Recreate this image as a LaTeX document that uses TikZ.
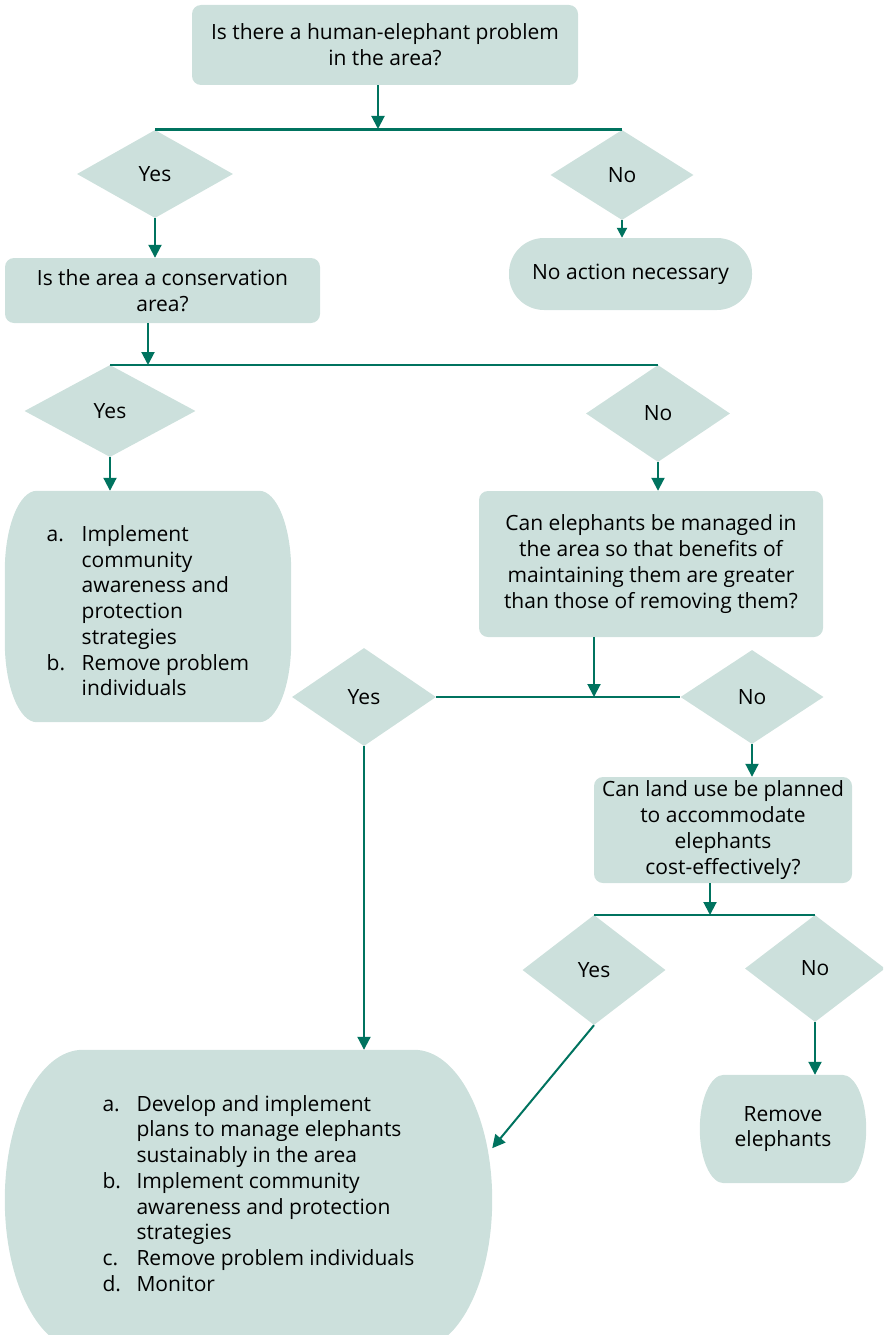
\documentclass[tikz,border=0pt]{standalone}
\usepackage{fontspec}
\setmainfont{Open Sans}
\usepackage{tikz}
\usetikzlibrary{positioning, arrows.meta, shapes.geometric, calc, backgrounds}
\usepackage{xcolor}

\definecolor{boxfill}{RGB}{204,224,220}
\definecolor{flowline}{RGB}{0,115,95}

\tikzset{
qbox/.style={fill=boxfill, rounded corners=9pt, align=center, inner sep=0pt},
actbox/.style={inner sep=0pt, align=center},
choice/.style={diamond, fill=boxfill, inner sep=0pt},
arr/.style={flowline, line width=2pt, -{Triangle[length=13pt,width=13pt]}},
smallarr/.style={flowline, line width=2pt, -{Triangle[length=10pt,width=10pt]}},
bar/.style={flowline, line width=2.6pt},
}

\newcommand{\barrelfill}[3]{%
\fill[boxfill] ([xshift=#2]#1.north west) -- ([xshift=-#2]#1.north east)
 arc[start angle=90, end angle=0, x radius=#2, y radius=#3] -- ([yshift=#3]#1.south east)
 arc[start angle=0, end angle=-90, x radius=#2, y radius=#3] -- ([xshift=#2]#1.south west)
 arc[start angle=270, end angle=180, x radius=#2, y radius=#3] -- ([yshift=-#3]#1.north west)
 arc[start angle=180, end angle=90, x radius=#2, y radius=#3] -- cycle;}

\begin{document}
\begin{tikzpicture}[x=1pt, y=-1pt, font=\fontsize{21}{25.7}\selectfont]
\useasboundingbox (0,0) rectangle (883,1335);
\clip (0,0) rectangle (883,1335);

% questions and answers
\node[qbox, minimum width=386pt, minimum height=80pt] (q1) at (385,45) {Is there a human-elephant problem\\in the area?};
\node[choice, minimum width=156pt, minimum height=88pt] (yes1) at (155,174) {Yes};
\node[choice, minimum width=143pt, minimum height=90pt] (no1) at (622,175) {No};
\node[qbox, minimum width=315pt, minimum height=65pt] (q2) at (162.5,290.5) {Is the area a conservation\\area?};
\node[qbox, rounded corners=35pt, minimum width=243pt, minimum height=72pt] (none) at (630.5,274) {No action necessary};

\node[choice, minimum width=171pt, minimum height=92pt] (yes2) at (110,411) {Yes};
\node[choice, minimum width=144pt, minimum height=97pt] (no2) at (658,413.5) {No};
\node[actbox, minimum width=286pt, minimum height=231pt] (act1) at (148,606.5) {%
\begin{tabular}{@{}p{35pt}@{}l@{}}
\noalign{\vskip 14pt}
a. & Implement\\
 & community\\
 & awareness and\\
 & protection\\
 & strategies\\
b. & Remove problem\\
 & individuals
\end{tabular}};
\node[qbox, minimum width=344pt, minimum height=146pt] (q3) at (651,564) {Can elephants be managed in\\the area so that benefits of\\maintaining them are greater\\than those of removing them?};

\node[choice, minimum width=144pt, minimum height=98pt] (yes3) at (364,697) {Yes};
\node[choice, minimum width=143pt, minimum height=94pt] (no3) at (752,697) {No};
\node[qbox, minimum width=258pt, minimum height=106pt] (q4) at (723,830) {Can land use be planned\\to accommodate\\elephants\\cost-effectively?};

\node[choice, minimum width=143pt, minimum height=110pt] (yes4) at (594,970) {Yes};
\node[choice, minimum width=140pt, minimum height=107pt] (no4) at (815,968.5) {No};
\node[actbox, minimum width=166pt, minimum height=108pt] (rem) at (783,1129) {Remove\\elephants};
\node[actbox, minimum width=487pt, minimum height=300pt] (plan) at (248.5,1200) {%
\begin{tabular}{@{\hspace{20pt}}p{34pt}@{}l@{}}
a. & Develop and implement\\
 & plans to manage elephants\\
 & sustainably in the area\\
b. & Implement community\\
 & awareness and protection\\
 & strategies\\
c. & Remove problem individuals\\
d. & Monitor\\
\noalign{\vskip 8pt}
\end{tabular}};

\begin{scope}[on background layer]
\barrelfill{act1}{32pt}{80pt}
\barrelfill{rem}{24pt}{54pt}
\barrelfill{plan}{78pt}{150pt}
\end{scope}

% junctions on the bars
\coordinate (j1) at (378,129);
\coordinate (j2) at (148,365);
\coordinate (j3) at (594,697);
\coordinate (j4) at (710,915);

\draw[bar] (yes1.north) -- (no1.north);
\draw[bar] (yes2.north) -- (no2.north);
\draw[bar] (yes3.east) -- (no3.west);
\draw[bar] (yes4.north) -- (no4.north);

\draw[arr] (q1.south -| j1) -- (j1);
\draw[arr] (q2.south -| j2) -- (j2);
\draw[arr] (q3.south -| j3) -- (j3);
\draw[arr] (q4.south -| j4) -- (j4);

\draw[arr] (yes1.south) -- (yes1.south |- q2.north);
\draw[smallarr] (no1.south) -- (no1.south |- none.north);
\draw[arr] (yes2.south) -- (yes2.south |- act1.north);
\draw[arr] (no2.south) -- (no2.south |- q3.north);
\draw[arr] (no3.south) -- (no3.south |- q4.north);
\draw[arr] (yes3.south) -- (yes3.south |- plan.north);
\draw[arr] (yes4.south) -- (plan.12);
\draw[arr] (no4.south) -- (no4.south |- rem.north);
\end{tikzpicture}
\end{document}
